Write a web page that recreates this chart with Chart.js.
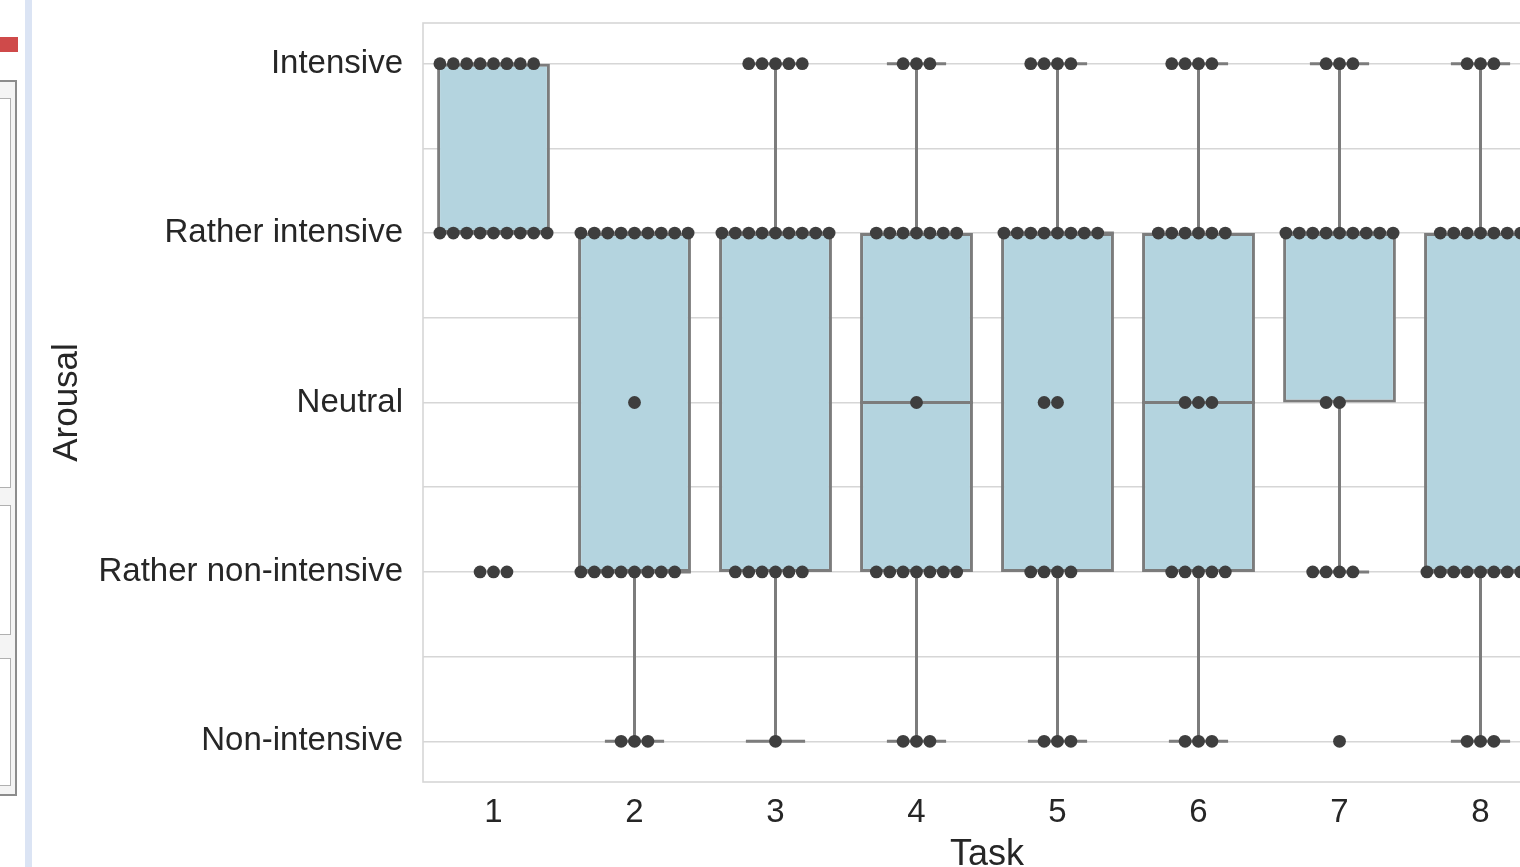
<!DOCTYPE html>
<html>
<head>
<meta charset="utf-8">
<script src="https://cdn.jsdelivr.net/npm/chart.js@4.4.1/dist/chart.umd.min.js"></script>
<style>
  html, body { margin: 0; padding: 0; background: #fff; overflow: hidden; }
  body { width: 1520px; height: 867px; position: relative; }
  #wrap { position: absolute; left: 0; top: 0; width: 1600px; height: 880px; }
  .side { position: absolute; box-sizing: border-box; }
</style>
</head>
<body>
<!-- bits of the neighbouring window on the left -->
<div class="side" style="left:0;top:37px;width:18px;height:15px;background:#cf4a4a"></div>
<div class="side" style="left:0;top:80px;width:17px;height:716px;border:2px solid #8c8c8c;border-left:none;background:#f4f4f4"></div>
<div class="side" style="left:0;top:98px;width:11px;height:390px;border:1px solid #b0b0b0;border-left:none;background:#fff"></div>
<div class="side" style="left:0;top:505px;width:11px;height:130px;border:1px solid #b0b0b0;border-left:none;background:#fff"></div>
<div class="side" style="left:0;top:658px;width:11px;height:128px;border:1px solid #b0b0b0;border-left:none;background:#fff"></div>
<div class="side" style="left:25px;top:0;width:7px;height:867px;background:#dbe4f4"></div>
<div id="wrap"><canvas id="chart"></canvas></div>
<script>
// categories
const taskLabels = ['1', '2', '3', '4', '5', '6', '7', '8'];
const levelNames = ['Non-intensive', 'Rather non-intensive', 'Neutral', 'Rather intensive', 'Intensive'];
const yGridValues = [1, 1.5, 2, 2.5, 3, 3.5, 4, 4.5, 5];

// number of answers per task at each level
const countsNonIntensive = [0, 3, 1, 3, 3, 3, 1, 3];
const countsRatherNon    = [3, 8, 6, 7, 4, 5, 4, 8];
const countsNeutral      = [0, 1, 0, 1, 2, 3, 2, 0];
const countsRatherInt    = [9, 9, 9, 7, 8, 6, 9, 7];
const countsIntensive    = [8, 0, 5, 3, 4, 4, 3, 3];

// box statistics per task (1 = Non-intensive ... 5 = Intensive)
const boxQ1     = [4, 2, 2, 2, 2, 2, 3, 2];
const boxMedian = [4, 2, 4, 3, 4, 3, 4, 2];
const boxQ3     = [5, 4, 4, 4, 4, 4, 4, 4];
const whiskerLo = [4, 1, 1, 1, 1, 1, 2, 1];
const whiskerHi = [5, 4, 5, 5, 5, 5, 5, 5];

const boxFill = '#b4d4df';
const lineGray = '#7c7c7c';
const dotColor = '#3e3e3e';
const textColor = '#262626';
const gridColor = '#d6d6d6';

const dotStep = 0.095;   // swarm spacing, in task units
const boxHalf = 0.4;
const capHalf = 0.21;

// swarm dots
const levelCounts = [countsNonIntensive, countsRatherNon, countsNeutral, countsRatherInt, countsIntensive];
const dots = [];
taskLabels.forEach((t, i) => {
  levelCounts.forEach((arr, l) => {
    const n = arr[i];
    for (let k = 0; k < n; k++) {
      dots.push({ x: i + 1 + (k - Math.floor(n / 2)) * dotStep, y: l + 1 });
    }
  });
});

// whiskers + caps, medians as broken line segments
const whiskerPts = [];
const medianPts = [];
function seg(list, x1, y1, x2, y2) {
  list.push({ x: x1, y: y1 }, { x: x2, y: y2 }, { x: x2, y: null });
}
taskLabels.forEach((t, i) => {
  const x = i + 1;
  if (whiskerLo[i] < boxQ1[i]) seg(whiskerPts, x, whiskerLo[i], x, boxQ1[i]);
  if (whiskerHi[i] > boxQ3[i]) seg(whiskerPts, x, boxQ3[i], x, whiskerHi[i]);
  seg(whiskerPts, x - capHalf, whiskerLo[i], x + capHalf, whiskerLo[i]);
  seg(whiskerPts, x - capHalf, whiskerHi[i], x + capHalf, whiskerHi[i]);
  seg(medianPts, x - boxHalf, boxMedian[i], x + boxHalf, boxMedian[i]);
});

const boxes = taskLabels.map((t, i) => ({ x: i + 1, y: [boxQ1[i], boxQ3[i]] }));

const framePlugin = {
  id: 'frame',
  beforeDatasetsDraw(chart) {
    const { ctx, chartArea: a } = chart;
    ctx.save();
    ctx.strokeStyle = gridColor;
    ctx.lineWidth = 1.6;
    ctx.strokeRect(a.left, a.top, a.right - a.left, a.bottom - a.top);
    ctx.restore();
  }
};

new Chart(document.getElementById('chart'), {
  type: 'scatter',
  data: {
    datasets: [
      {
        type: 'scatter',
        data: dots,
        pointRadius: 6.4,
        pointBackgroundColor: dotColor,
        pointBorderWidth: 0,
        order: 0
      },
      {
        type: 'line',
        data: medianPts,
        borderColor: lineGray,
        borderWidth: 3,
        pointRadius: 0,
        spanGaps: false,
        order: 1
      },
      {
        type: 'bar',
        data: boxes,
        backgroundColor: boxFill,
        borderColor: lineGray,
        borderWidth: 3,
        borderSkipped: false,
        barPercentage: 0.8,
        categoryPercentage: 1,
        grouped: false,
        order: 2
      },
      {
        type: 'line',
        data: whiskerPts,
        borderColor: lineGray,
        borderWidth: 3,
        pointRadius: 0,
        spanGaps: false,
        order: 3
      }
    ]
  },
  options: {
    responsive: true,
    maintainAspectRatio: false,
    animation: false,
    layout: { padding: { top: 23, right: 49, bottom: 0, left: 0 } },
    plugins: { legend: { display: false }, tooltip: { enabled: false } },
    scales: {
      x: {
        type: 'linear',
        min: 0.5,
        max: 8.5,
        offset: false,
        afterBuildTicks: s => { s.ticks = taskLabels.map((t, i) => ({ value: i + 1 })); },
        afterFit: s => { s.height = 98; s.paddingLeft = 0; s.paddingRight = 0; },
        ticks: {
          callback: v => taskLabels[v - 1],
          font: { family: 'Liberation Sans', size: 33 },
          color: textColor,
          padding: 3
        },
        grid: { display: false },
        border: { display: false },
        title: {
          display: true,
          text: 'Task',
          font: { family: 'Liberation Sans', size: 36 },
          color: textColor,
          padding: { top: 0, bottom: 3 }
        }
      },
      y: {
        type: 'linear',
        min: 0.76,
        max: 5.24,
        afterBuildTicks: s => { s.ticks = yGridValues.map(v => ({ value: v })); },
        afterFit: s => { s.width = 423; s.paddingTop = 0; s.paddingBottom = 0; },
        ticks: {
          callback: v => (Number.isInteger(v) ? levelNames[v - 1] : ''),
          font: { family: 'Liberation Sans', size: 33 },
          color: textColor,
          padding: 20
        },
        grid: { color: gridColor, lineWidth: 1.6, drawTicks: false },
        border: { display: false },
        title: {
          display: true,
          text: 'Arousal',
          font: { family: 'Liberation Sans', size: 35 },
          color: textColor,
          padding: { top: 46, bottom: 0 }
        }
      }
    }
  },
  plugins: [framePlugin]
});
</script>
</body>
</html>
